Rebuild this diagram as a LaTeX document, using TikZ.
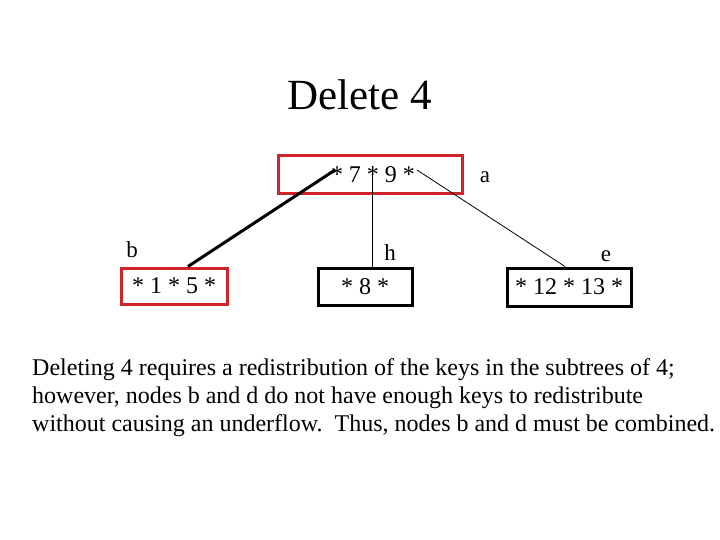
\documentclass[tikz,border=0pt]{standalone}
\usepackage{fontspec}
\setmainfont{Liberation Serif}
\definecolor{bred}{HTML}{D0242B}
\usetikzlibrary{positioning}

\begin{document}
\begin{tikzpicture}[x=1pt, y=-1pt,
  key/.style={draw=black, line width=3pt, minimum height=37pt,
    inner sep=0pt, font=\fontsize{24}{28}\selectfont},
  redkey/.style={key, draw=bred},
  lbl/.style={anchor=base, inner sep=0pt, font=\fontsize{23}{28}\selectfont},
  ptr/.style={line width=0.8pt}]
\useasboundingbox (0,0) rectangle (720,540);
\node[anchor=base, font=\fontsize{43}{48}\selectfont] (title) at (360,110) {Delete 4};
% the root and its children
\node[redkey, minimum width=184pt, minimum height=38pt] (a) at (370,175) {\hspace*{6pt}* 7 * 9 *};
\node[redkey, minimum width=106pt, minimum height=36pt] (b) at (174,286) {* 1 * 5 *};
\node[key, minimum width=94pt] (h) at (365,286.5) {* 8 *};
\node[key, minimum width=124pt, minimum height=38pt] (e) at (569,287) {* 12 * 13 *};
\node[lbl] (la) at (485,183) {a};
\node[lbl] (lb) at (132,258) {b};
\node[lbl] (lh) at (390,260) {h};
\node[lbl] (le) at (606,261) {e};
% pointers out of the root
\coordinate (p0) at (335,170);
\coordinate (p1) at (372,166);
\coordinate (p2) at (417,170);
\draw[ptr, line width=3pt] (p0) -- ([xshift=14pt]b.north);
\draw[ptr] (p1) -- ([xshift=7pt]h.north);
\draw[ptr] (p2) -- ([xshift=-4pt]e.north);
\node[anchor=north west, align=left, inner sep=0pt,
  font=\fontsize{24}{28}\selectfont] (txt) at (32,358)
  {Deleting 4 requires a redistribution of the keys in the subtrees of 4;\\
   however, nodes b and d do not have enough keys to redistribute\\
   without causing an underflow.\ \ Thus, nodes b and d must be combined.};
\end{tikzpicture}
\end{document}
